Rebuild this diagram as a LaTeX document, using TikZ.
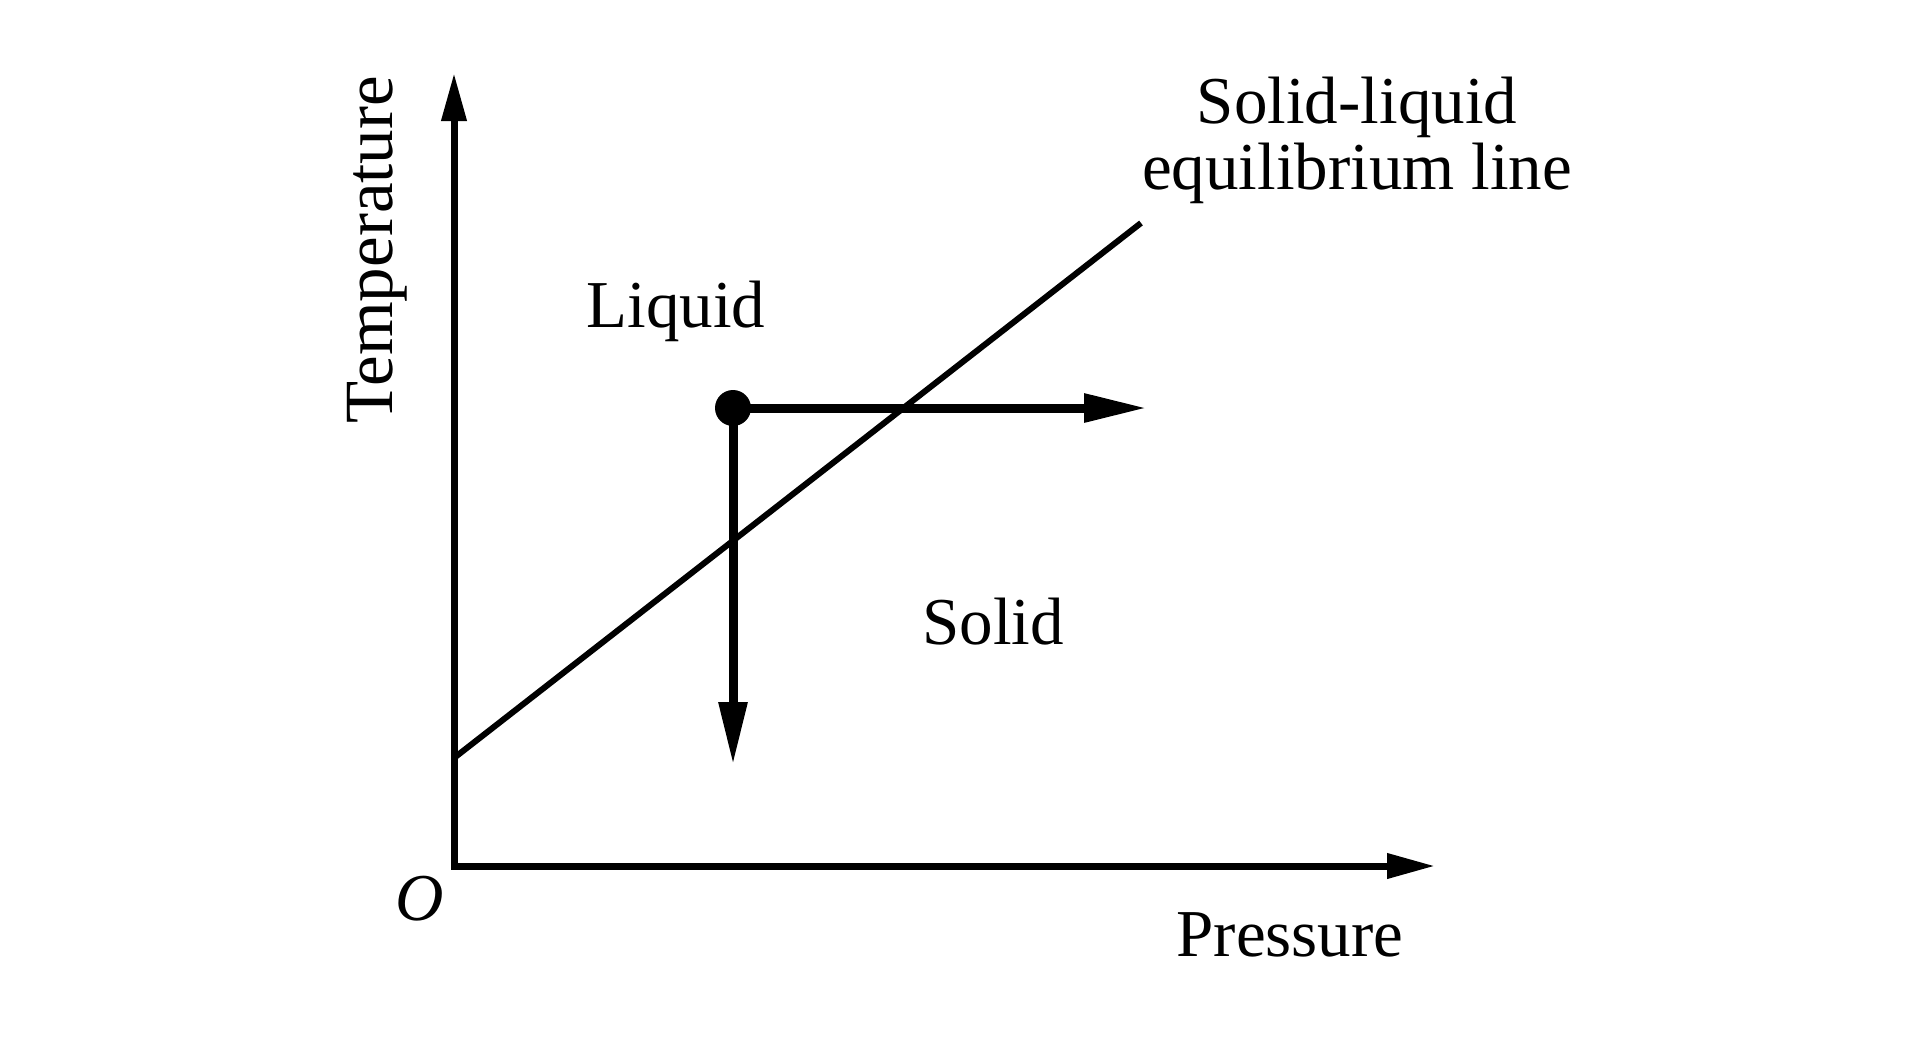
\documentclass[tikz,border=0pt]{standalone}
\usepackage{fontspec}
\setmainfont{Liberation Serif}
\usetikzlibrary{arrows.meta}
\begin{document}
\begin{tikzpicture}[x=0.5pt,y=-0.5pt,
  lbl/.style={font=\fontsize{33.5}{33}\selectfont, inner sep=0pt, anchor=base},
  axes/.style={line width=3.5pt, {Triangle[length=24pt,width=12pt]}-{Triangle[length=24pt,width=12pt]}},
  move/.style={line width=4.5pt, -{Triangle[length=31.5pt,width=13.5pt]}},
  eqline/.style={line width=3pt}]
\useasboundingbox (0,0) rectangle (1923,1039);
\coordinate (O) at (454,866);
\coordinate (ytip) at (454,73);
\coordinate (xtip) at (1435,866);
\coordinate (ls) at (454,758);
\coordinate (le) at (1141,223);
\coordinate (hend) at (1147,408);
\coordinate (vend) at (733,765);
\node[circle, fill=black, inner sep=0pt, minimum size=18pt] (dot) at (733,408) {};
\draw[axes] (ytip) -- (O) -- (xtip);
\draw[eqline] (ls) -- (le);
\draw[move] (dot.center) -- (hend);
\draw[move] (dot.center) -- (vend);
\node[lbl, rotate=90, font=\fontsize{34.5}{34}\selectfont] (temp) at (392,250) {Temperature};
\node[lbl] (pres) at (1290,956) {Pressure};
\node[lbl] (orig) at (420,920) {\itshape O};
\node[lbl] (liq) at (676,327) {Liquid};
\node[lbl] (sol) at (993,644) {Solid};
\node[lbl, align=center] (eqlbl) at (1357,189) {Solid-liquid\\equilibrium line};
\end{tikzpicture}
\end{document}
